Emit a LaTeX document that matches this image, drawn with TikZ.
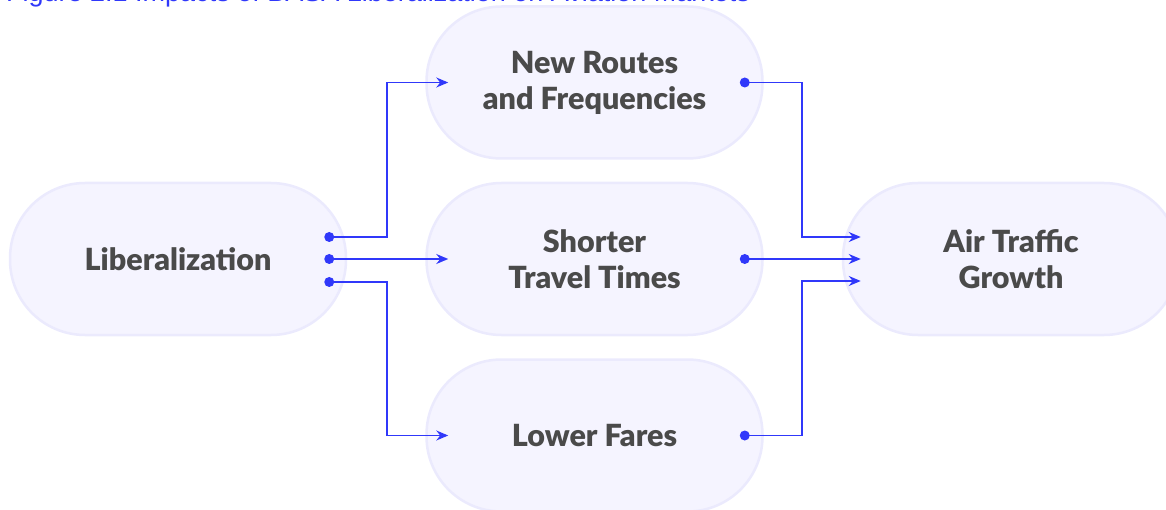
\documentclass[tikz,border=0pt]{standalone}
\usepackage{fontspec}
\usepackage{tikz}
\usetikzlibrary{arrows.meta,positioning}
\setmainfont{Lato}[BoldFont={Lato Black}]
\newfontfamily\captionfont{Liberation Sans}
\definecolor{pillwash}{HTML}{F5F4FF}
\definecolor{pillrim}{HTML}{EBEAFD}
\definecolor{linkblue}{HTML}{3038FA}
\definecolor{inkgrey}{HTML}{4A4A4A}

\begin{document}
\begin{tikzpicture}[
  x=1pt, y=-1pt,
  node distance=22pt and 78pt,
  every node/.style={align=center},
  pill/.style={draw=pillrim, line width=2.5pt, fill=pillwash, rounded corners=75pt,
    minimum width=336pt, minimum height=152pt, text=inkgrey,
    font=\fontsize{30.5}{36}\selectfont\bfseries},
  link/.style={-{Stealth[length=12pt, width=10pt, inset=4pt]}, line width=1.6pt, draw=linkblue},
  dot/.style={fill=linkblue}
]
\clip (0,0) rectangle (1166,510);
\node[anchor=base west, text=linkblue, inner sep=0pt,
  font=\captionfont\fontsize{27}{30}\selectfont] (caption) at (6,2)
  {Figure 2.1 Impacts of BASA Liberalization on Aviation Markets};
\node[pill] (lib) at (178,259) {Liberalization};
\node[pill, right=of lib] (travel) {Shorter\\Travel Times};
\node[pill, above=of travel] (routes) {New Routes\\and Frequencies};
\node[pill, below=of travel] (fares) {Lower Fares};
\node[pill, right=of travel] (growth) {Air Traffic\\Growth};
\coordinate (l1) at ([xshift=-18pt, yshift=22pt]lib.east);
\coordinate (l2) at ([xshift=-18pt]lib.east);
\coordinate (l3) at ([xshift=-18pt, yshift=-23pt]lib.east);
\coordinate (routesin) at ([xshift=23pt]routes.west);
\coordinate (travelin) at ([xshift=23pt]travel.west);
\coordinate (faresin) at ([xshift=23pt]fares.west);
\coordinate (routesout) at ([xshift=-19pt]routes.east);
\coordinate (travelout) at ([xshift=-19pt]travel.east);
\coordinate (faresout) at ([xshift=-19pt]fares.east);
\coordinate (g1) at ([xshift=19pt, yshift=22pt]growth.west);
\coordinate (g2) at ([xshift=19pt]growth.west);
\coordinate (g3) at ([xshift=19pt, yshift=-22pt]growth.west);
\draw[link] (l1) -- ([xshift=40pt]l1 -| lib.east) |- (routesin);
\draw[link] (l2) -- (travelin);
\draw[link] (l3) -- ([xshift=40pt]l3 -| lib.east) |- (faresin);
\draw[link] (routesout) -- ([xshift=38pt]routesout -| routes.east) |- (g1);
\draw[link] (travelout) -- (g2);
\draw[link] (faresout) -- ([xshift=38pt]faresout -| fares.east) |- (g3);
\foreach \p in {l1,l2,l3,routesout,travelout,faresout}
  \fill[dot] (\p) circle (5pt);
\end{tikzpicture}
\end{document}
